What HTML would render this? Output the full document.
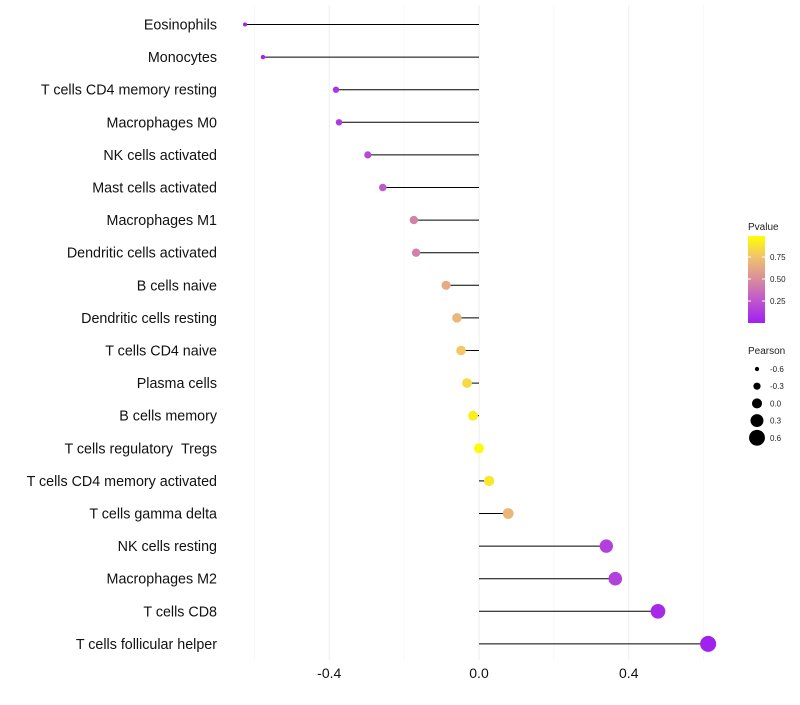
<!DOCTYPE html>
<html><head><meta charset="utf-8"><style>
body{margin:0;background:#fff;}
svg text{font-family:"Liberation Sans",sans-serif;white-space:pre;}
</style></head><body>
<svg id="chart" width="800" height="700"></svg>
<script>
const categories=["Eosinophils","Monocytes","T cells CD4 memory resting","Macrophages M0","NK cells activated","Mast cells activated","Macrophages M1","Dendritic cells activated","B cells naive","Dendritic cells resting","T cells CD4 naive","Plasma cells","B cells memory","T cells regulatory\u00a0\u00a0Tregs","T cells CD4 memory activated","T cells gamma delta","NK cells resting","Macrophages M2","T cells CD8","T cells follicular helper"];
const pearson=[-0.625,-0.577,-0.382,-0.374,-0.297,-0.257,-0.174,-0.168,-0.088,-0.059,-0.048,-0.032,-0.016,0.0,0.027,0.078,0.34,0.364,0.478,0.612];
const pvalues=[0.01,0.02,0.1,0.12,0.2,0.27,0.45,0.45,0.65,0.7,0.78,0.85,0.93,0.99,0.9,0.7,0.15,0.15,0.05,0.01];
const xTicks=[-0.4,0.0,0.4];
const xTickLabels=["-0.4","0.0","0.4"];
const xMinor=[-0.6,-0.2,0.2,0.6];
const pTicks=[0.25,0.5,0.75];
const sizeLegend=[-0.6,-0.3,0.0,0.3,0.6];

const svg=document.getElementById('chart');
const NS="http://www.w3.org/2000/svg";
function mk(tag,attrs,parent){const e=document.createElementNS(NS,tag);for(const k in attrs)e.setAttribute(k,attrs[k]);(parent||svg).appendChild(e);return e;}
const xs=v=>479+v*374.4;
const ys=i=>24.5+i*32.6;
const rs=v=>2+(v+0.625)/1.237*6;
const stops=[[0,[160,32,240]],[0.3,[195,95,200]],[0.5,[216,140,156]],[0.75,[240,192,112]],[1,[255,255,0]]];
function col(p){for(let i=1;i<stops.length;i++){if(p<=stops[i][0]){const a=stops[i-1],b=stops[i];const t=(p-a[0])/(b[0]-a[0]);const c=a[1].map((x,j)=>Math.round(x+(b[1][j]-x)*t));return `rgb(${c})`;}}return 'rgb(255,255,0)';}

xMinor.forEach(v=>{const l=mk('line',{x1:xs(v),x2:xs(v),y1:5,y2:660,stroke:'#f4f4f4','stroke-width':0.6});

});
xTicks.forEach((v,i)=>{const l=mk('line',{x1:xs(v),x2:xs(v),y1:5,y2:660,stroke:'#efefef','stroke-width':1.1});


const t=mk('text',{x:xs(v),y:678,'text-anchor':'middle','font-size':14,fill:'#111'});t.textContent=xTickLabels[i];

});
categories.forEach((c,i)=>{const y=ys(i);
const t=mk('text',{x:217,y:y+5,'text-anchor':'end','font-size':14.3,fill:'#111'});t.textContent=c;

});
categories.forEach((c,i)=>{const y=ys(i);
const l=mk('line',{x1:xs(0),x2:xs(pearson[i]),y1:y,y2:y,stroke:'#000','stroke-width':1});


const d=mk('circle',{cx:xs(pearson[i]),cy:y,r:rs(pearson[i]),fill:col(pvalues[i])});

});
const lg=mk('g',{});


let t=mk('text',{x:748,y:230,'font-size':10,fill:'#222'},lg);t.textContent='Pvalue';
const defs=mk('defs',{});const gr=mk('linearGradient',{id:'pg',x1:0,y1:1,x2:0,y2:0},defs);
stops.forEach(s=>mk('stop',{offset:s[0],'stop-color':`rgb(${s[1]})`},gr));
mk('rect',{x:748,y:236,width:17,height:87,fill:'url(#pg)'},lg);
pTicks.forEach(p=>{const y=323-p*88;mk('line',{x1:748,x2:751,y1:y,y2:y,stroke:'#fff'},lg);mk('line',{x1:762,x2:765,y1:y,y2:y,stroke:'#fff'},lg);
const tt=mk('text',{x:770,y:y+3,'font-size':8,fill:'#222'},lg);tt.textContent=p.toFixed(2);});
t=mk('text',{x:748,y:354,'font-size':10,fill:'#222'},lg);t.textContent='Pearson';
sizeLegend.forEach((v,i)=>{const y=369+i*17.2;mk('circle',{cx:757,cy:y,r:rs(v),fill:'#000'},lg);
const tt=mk('text',{x:770,y:y+3,'font-size':8,fill:'#222'},lg);tt.textContent=v.toFixed(1);});
</script>
</body></html>
